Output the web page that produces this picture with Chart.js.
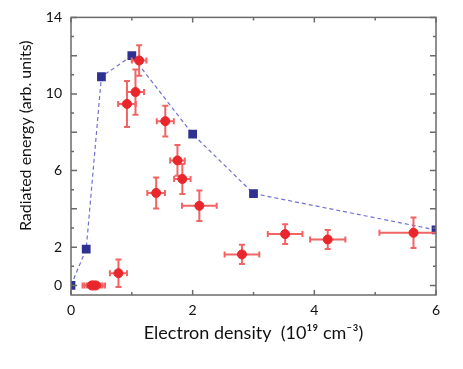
<!DOCTYPE html>
<html lang="en">
<head>
<meta charset="UTF-8">
<title>Radiated energy vs electron density</title>
<script src="https://cdn.jsdelivr.net/npm/chart.js"></script>
<style>
  html, body { margin: 0; padding: 0; background: #fff; }
  #wrap { width: 463px; height: 369px; }
</style>
</head>
<body>
<div id="wrap"><canvas id="grafico" width="463" height="369"></canvas></div>
<script>
// simulation (blue squares, dashed line)
const simDensity = [0, 0.25, 0.5, 1, 2, 3, 6];
const simEnergy  = [0, 1.9, 10.9, 12, 7.9, 4.8, 2.9];

// measurements (red circles with error bars)
const expDensity = [0.34, 0.37, 0.41, 0.78, 0.92, 1.06, 1.12, 1.40, 1.55, 1.75, 1.83, 2.11, 2.81, 3.52, 4.22, 5.63];
const expEnergy  = [0, 0, 0, 0.64, 9.48, 10.1, 11.75, 4.83, 8.58, 6.53, 5.56, 4.16, 1.62, 2.68, 2.4, 2.75];
const densityErr = [0.15, 0.15, 0.15, 0.14, 0.145, 0.14, 0.12, 0.145, 0.14, 0.12, 0.135, 0.285, 0.285, 0.285, 0.29, 0.56];
const energyErr  = [0, 0, 0, 0.72, 1.2, 1.18, 0.8, 0.81, 0.8, 0.8, 0.78, 0.8, 0.5, 0.52, 0.5, 0.8];

const xTicks = [0, 1, 2, 3, 4, 5, 6];
const xLabels = [0, 2, 4, 6];
const yTicks = [0, 1, 2, 3, 4, 5, 6, 7, 8, 9, 10, 11, 12, 13, 14];
const yLabels = [0, 2, 6, 10, 14];

const FONT = "Lato, 'DejaVu Sans', sans-serif";
const axisColor = '#6b6b6b';

// error bars, drawn under the red points
const errorBars = {
    id: 'errorBars',
    beforeDatasetDraw(chart, args) {
        if (args.index !== 0) return;
        const { ctx, chartArea, scales: { x, y } } = chart;
        ctx.save();
        ctx.beginPath();
        ctx.rect(chartArea.left, chartArea.top, chartArea.right - chartArea.left, chartArea.bottom - chartArea.top);
        ctx.clip();
        ctx.strokeStyle = '#f26464';
        ctx.lineWidth = 2;
        const cap = 3;
        expDensity.forEach((d, i) => {
            const px = x.getPixelForValue(d), py = y.getPixelForValue(expEnergy[i]);
            const x0 = x.getPixelForValue(d - densityErr[i]), x1 = x.getPixelForValue(d + densityErr[i]);
            const y0 = y.getPixelForValue(expEnergy[i] - energyErr[i]), y1 = y.getPixelForValue(expEnergy[i] + energyErr[i]);
            ctx.beginPath();
            ctx.moveTo(x0, py); ctx.lineTo(x1, py);
            ctx.moveTo(x0, py - cap); ctx.lineTo(x0, py + cap);
            ctx.moveTo(x1, py - cap); ctx.lineTo(x1, py + cap);
            if (energyErr[i] > 0) {
                ctx.moveTo(px, y0); ctx.lineTo(px, y1);
                ctx.moveTo(px - cap, y0); ctx.lineTo(px + cap, y0);
                ctx.moveTo(px - cap, y1); ctx.lineTo(px + cap, y1);
            }
            ctx.stroke();
        });
        ctx.restore();
    }
};

// box frame with inward ticks on all four sides
const frame = {
    id: 'frame',
    afterDraw(chart) {
        const { ctx, chartArea: a, scales: { x, y } } = chart;
        ctx.save();
        ctx.strokeStyle = axisColor;
        ctx.lineWidth = 1.5;
        ctx.strokeRect(a.left, a.top, a.right - a.left, a.bottom - a.top);
        ctx.beginPath();
        xTicks.forEach(v => {
            const px = x.getPixelForValue(v);
            const len = v % 2 === 0 ? 5 : 3;
            ctx.moveTo(px, a.bottom); ctx.lineTo(px, a.bottom - len);
            ctx.moveTo(px, a.top); ctx.lineTo(px, a.top + len);
        });
        yTicks.forEach(v => {
            const py = y.getPixelForValue(v);
            const len = v % 2 === 0 ? 6 : 3;
            ctx.moveTo(a.left, py); ctx.lineTo(a.left + len, py);
            ctx.moveTo(a.right, py); ctx.lineTo(a.right - len, py);
        });
        ctx.stroke();
        ctx.restore();
    }
};

const ctx = document.getElementById('grafico').getContext('2d');
const grafico = new Chart(ctx, {
    type: 'scatter',
    data: {
        datasets: [
            {
                label: 'Experiment',
                data: expDensity.map((d, i) => ({ x: d, y: expEnergy[i] })),
                backgroundColor: '#e8262b',
                borderColor: '#e8262b',
                pointRadius: 4.5,
                pointHoverRadius: 4.5,
                clip: 0,
                order: 0
            },
            {
                label: 'Simulation',
                data: simDensity.map((d, i) => ({ x: d, y: simEnergy[i] })),
                showLine: true,
                borderColor: '#6f72cf',
                borderWidth: 1.2,
                borderDash: [4, 3],
                pointStyle: 'rect',
                pointRadius: 6.2,
                pointHoverRadius: 6.2,
                pointBackgroundColor: '#2e3192',
                pointBorderColor: '#2e3192',
                pointBorderWidth: 0,
                clip: 0,
                order: 1
            }
        ]
    },
    options: {
        responsive: false,
        animation: false,
        events: [],
        layout: { padding: { top: 15, right: 27, left: 0, bottom: 0 } },
        plugins: { legend: { display: false }, tooltip: { enabled: false } },
        scales: {
            x: {
                type: 'linear',
                min: 0, max: 6,
                afterFit: s => { s.height = 74; },
                afterBuildTicks: s => { s.ticks = xTicks.map(v => ({ value: v })); },
                grid: { display: false, drawTicks: false },
                border: { display: false },
                ticks: {
                    padding: 7,
                    color: '#111',
                    font: { family: FONT, size: 14 },
                    maxRotation: 0,
                    callback: v => xLabels.includes(v) ? String(v) : ''
                },
                title: {
                    display: true,
                    text: 'Electron density  (10¹⁹ cm⁻³)',
                    color: '#111',
                    font: { family: FONT, size: 18 },
                    padding: { top: 0, bottom: 25 }
                }
            },
            y: {
                type: 'linear',
                min: -0.5, max: 14,
                afterFit: s => { s.width = 71; },
                afterBuildTicks: s => { s.ticks = yTicks.map(v => ({ value: v })); },
                grid: { display: false, drawTicks: false },
                border: { display: false },
                ticks: {
                    padding: 9,
                    color: '#111',
                    font: { family: FONT, size: 14 },
                    callback: v => yLabels.includes(v) ? String(v) : ''
                },
                title: {
                    display: true,
                    text: '          Radiated energy (arb. units)',
                    color: '#111',
                    font: { family: FONT, size: 16 },
                    padding: { top: 16, bottom: 0 }
                }
            }
        }
    },
    plugins: [errorBars, frame]
});
</script>
</body>
</html>
